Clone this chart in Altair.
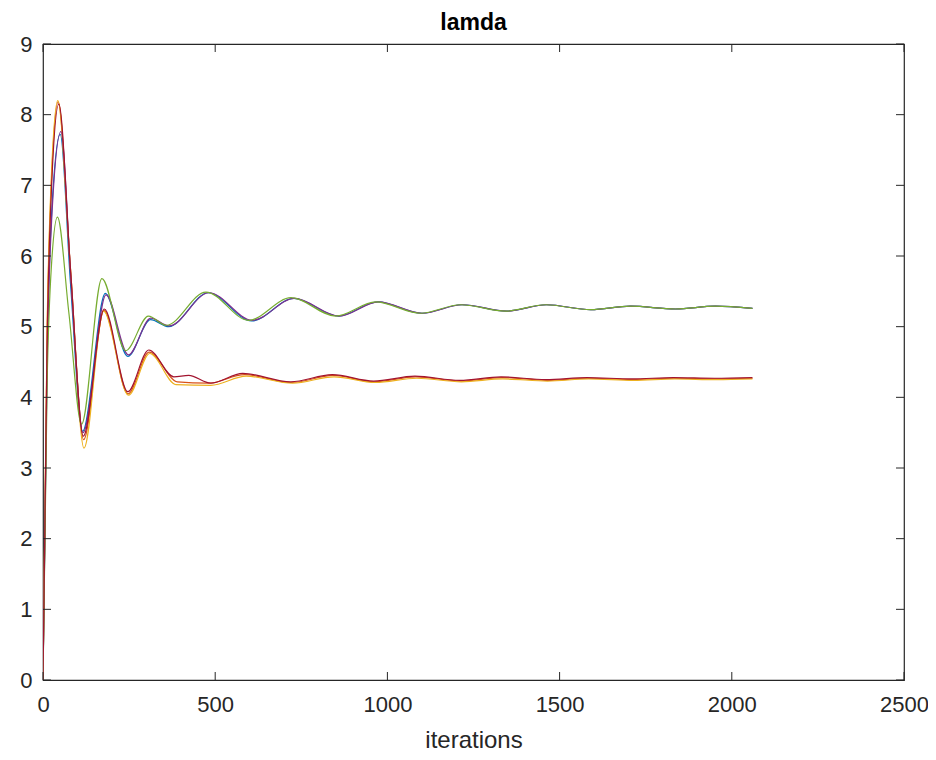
import altair as alt
import pandas as pd

# ---- data ----
blue_x = [0, 12, 25, 50, 80, 115, 181, 246, 312, 365, 480, 606, 728, 858, 972, 1100, 1216, 1346, 1462, 1590, 1706, 1836, 1952, 2060]
blue_y = [0, 4.6, 6.6, 7.72, 5.6, 3.52, 5.47, 4.58, 5.10, 5.00, 5.48, 5.08, 5.40, 5.15, 5.35, 5.19, 5.31, 5.22, 5.31, 5.24, 5.29, 5.25, 5.29, 5.26]

purple_x = [0, 12, 25, 52, 82, 116, 183, 248, 313, 366, 482, 608, 730, 860, 974, 1102, 1218, 1347, 1463, 1591, 1707, 1837, 1953, 2060]
purple_y = [0, 4.5, 6.5, 7.76, 5.6, 3.50, 5.45, 4.60, 5.12, 5.01, 5.48, 5.09, 5.40, 5.15, 5.35, 5.19, 5.31, 5.22, 5.31, 5.24, 5.29, 5.25, 5.29, 5.26]

green_x = [0, 12, 25, 42, 75, 112, 171, 240, 306, 358, 473, 597, 720, 850, 966, 1096, 1212, 1343, 1459, 1589, 1705, 1836, 1952, 2060]
green_y = [0, 4.2, 5.9, 6.55, 5.2, 3.62, 5.68, 4.66, 5.15, 5.02, 5.49, 5.09, 5.41, 5.15, 5.35, 5.19, 5.31, 5.22, 5.31, 5.24, 5.29, 5.25, 5.29, 5.26]

orange_x = [0, 12, 25, 44, 80, 118, 177, 247, 308, 390, 480, 585, 722, 842, 962, 1082, 1212, 1332, 1462, 1582, 1712, 1832, 1952, 2060]
orange_y = [0, 4.9, 7.1, 8.18, 5.8, 3.40, 5.23, 4.05, 4.64, 4.22, 4.20, 4.32, 4.21, 4.31, 4.22, 4.29, 4.23, 4.28, 4.24, 4.27, 4.25, 4.27, 4.26, 4.27]

yellow_x = [0, 12, 25, 43, 80, 119, 176, 248, 310, 386, 487, 590, 725, 845, 965, 1085, 1215, 1335, 1465, 1585, 1715, 1835, 1955, 2060]
yellow_y = [0, 5.0, 7.2, 8.20, 5.8, 3.28, 5.22, 4.03, 4.62, 4.18, 4.17, 4.30, 4.20, 4.29, 4.21, 4.27, 4.22, 4.26, 4.23, 4.26, 4.24, 4.26, 4.25, 4.26]

darkred_x = [0, 12, 25, 46, 80, 117, 178, 246, 307, 380, 423, 487, 580, 719, 840, 960, 1080, 1210, 1330, 1460, 1580, 1710, 1830, 1950, 2060]
darkred_y = [0, 4.8, 7.0, 8.15, 5.8, 3.45, 5.25, 4.08, 4.67, 4.29, 4.31, 4.20, 4.34, 4.22, 4.32, 4.23, 4.30, 4.24, 4.29, 4.25, 4.28, 4.26, 4.28, 4.27, 4.28]

series = [
    ("blue", blue_x, blue_y, "#0072BD"),
    ("orange", orange_x, orange_y, "#D95319"),
    ("yellow", yellow_x, yellow_y, "#EDB120"),
    ("purple", purple_x, purple_y, "#7E2F8E"),
    ("green", green_x, green_y, "#77AC30"),
    ("darkred", darkred_x, darkred_y, "#A2142F"),
]

x_ticks = [0, 500, 1000, 1500, 2000, 2500]
y_ticks = [0, 1, 2, 3, 4, 5, 6, 7, 8, 9]

W, H = 861, 636
FONT = "Liberation Sans"
TXT = "#262626"

xs = alt.Scale(domain=[0, 2500], nice=False)
ys = alt.Scale(domain=[0, 9], nice=False)

xaxis = alt.Axis(values=x_ticks, format="d", title="iterations", domain=False, ticks=False, grid=False,
                 labelFont=FONT, labelFontSize=22, labelColor=TXT, labelPadding=14,
                 titleFont=FONT, titleFontSize=24, titleFontWeight="normal", titleColor=TXT,
                 titlePadding=13, labelFlush=False)
yaxis = alt.Axis(values=y_ticks, format="d", title=None, domain=False, ticks=False, grid=False,
                 labelFont=FONT, labelFontSize=22, labelColor=TXT, labelPadding=11)

layers = []
for name, xv, yv, col in series:
    df = pd.DataFrame({"x": xv, "y": yv})
    layers.append(
        alt.Chart(df).mark_line(interpolate="monotone", strokeWidth=1.2, color=col, clip=True)
        .encode(x=alt.X("x:Q", scale=xs, axis=xaxis), y=alt.Y("y:Q", scale=ys, axis=yaxis))
    )

xt = pd.DataFrame({"x": x_ticks})
yt = pd.DataFrame({"y": y_ticks})
tick_style = dict(color=TXT, strokeWidth=1)
layers.append(alt.Chart(xt).mark_rule(**tick_style).encode(
    x=alt.X("x:Q", scale=xs, axis=xaxis), y=alt.value(H), y2=alt.value(H - 8)))
layers.append(alt.Chart(xt).mark_rule(**tick_style).encode(
    x=alt.X("x:Q", scale=xs, axis=xaxis), y=alt.value(0), y2=alt.value(8)))
layers.append(alt.Chart(yt).mark_rule(**tick_style).encode(
    y=alt.Y("y:Q", scale=ys, axis=yaxis), x=alt.value(0), x2=alt.value(8)))
layers.append(alt.Chart(yt).mark_rule(**tick_style).encode(
    y=alt.Y("y:Q", scale=ys, axis=yaxis), x=alt.value(W), x2=alt.value(W - 8)))

chart = alt.layer(*layers).properties(
    width=W, height=H,
    title=alt.TitleParams("lamda", font=FONT, fontSize=23, fontWeight="bold", color="#000000",
                          anchor="middle", offset=-2, frame="group"),
    autosize=alt.AutoSizeParams(type="none"),
    padding={"left": 35, "top": 36, "right": 24, "bottom": 72},
).configure(background="white").configure_view(stroke=TXT, strokeWidth=1.2)

chart.save("out.html", embed_options={"renderer": "svg", "actions": False})
